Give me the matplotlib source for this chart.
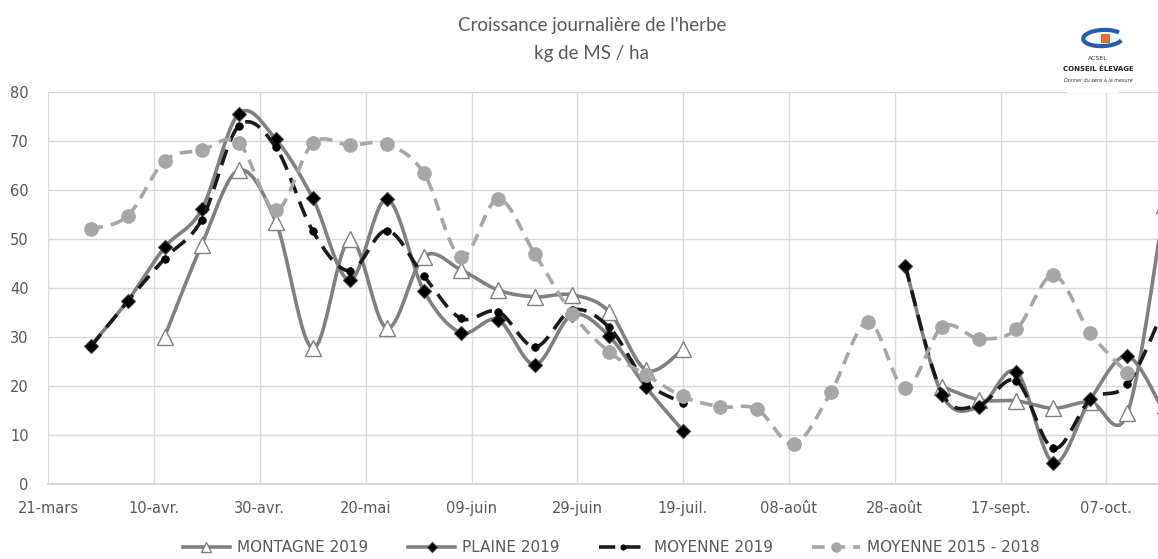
import numpy as np
import pandas as pd
from matplotlib import pyplot as plt
from matplotlib.lines import Line2D
from matplotlib.patches import Rectangle, Arc

nan = np.nan

# weekly measurement dates (2019)
dates = pd.date_range('2019-03-29', periods=30, freq='7D')
start = pd.Timestamp('2019-03-21')

tick_labels = ['21-mars', '10-avr.', '30-avr.', '20-mai', '09-juin', '29-juin',
               '19-juil.', '08-août', '28-août', '17-sept.', '07-oct.']

montagne = [nan, nan, 30.1, 48.8, 64.0, 53.5, 27.7, 49.9, 31.8, 46.4, 43.7, 39.6,
            38.2, 38.6, 35.2, 23.3, 27.5, nan, nan, nan, nan, nan, nan, 19.9,
            17.2, 17.0, 15.5, 16.8, 14.5, 57.0]
plaine = [28.2, 37.4, 48.3, 56.0, 75.5, 70.3, 58.3, 41.6, 58.1, 39.4, 30.9, 33.5,
          24.4, 34.5, 30.2, 19.8, 10.9, nan, nan, nan, nan, nan, 44.5, 18.2,
          15.8, 22.9, 4.4, 17.3, 26.1, 14.5]
moyenne_2019 = [28.0, 37.3, 46.0, 53.9, 73.0, 68.7, 51.6, 43.5, 51.7, 42.4, 33.8,
                35.2, 28.0, 35.5, 32.0, 20.9, 16.6, nan, nan, nan, nan, nan, 44.5,
                18.5, 16.2, 21.1, 7.3, 17.3, 20.4, 36.0]
moyenne_15_18 = [52.0, 54.7, 65.9, 68.1, 69.6, 55.9, 69.5, 69.1, 69.3, 63.4, 46.3,
                 58.1, 46.9, 34.8, 27.0, 22.3, 17.9, 15.8, 15.3, 8.2, 18.9, 33.1,
                 19.6, 32.1, 29.7, 31.6, 42.6, 30.8, 22.6, nan]

days = np.array((dates - start).days, dtype=float)


def smooth(x, y, n=25):
    # excel-like smoothed line: bezier through points, catmull-rom tangents
    y = np.asarray(y, dtype=float)
    xs, ys = [], []
    ok = ~np.isnan(y)
    i = 0
    while i < len(y):
        if not ok[i]:
            i += 1
            continue
        j = i
        while j < len(y) and ok[j]:
            j += 1
        px, py = x[i:j], y[i:j]
        m = len(px)
        if m >= 2:
            t = np.linspace(0, 1, n)
            for k in range(m - 1):
                p0 = np.array([px[max(k - 1, 0)], py[max(k - 1, 0)]])
                p1 = np.array([px[k], py[k]])
                p2 = np.array([px[k + 1], py[k + 1]])
                p3 = np.array([px[min(k + 2, m - 1)], py[min(k + 2, m - 1)]])
                c1 = p1 + (p2 - p0) / 6
                c2 = p2 - (p3 - p1) / 6
                b = (np.outer((1 - t) ** 3, p1) + np.outer(3 * (1 - t) ** 2 * t, c1)
                     + np.outer(3 * (1 - t) * t ** 2, c2) + np.outer(t ** 3, p2))
                xs.extend(b[:, 0])
                ys.extend(b[:, 1])
            xs.append(nan)
            ys.append(nan)
        i = j
    return np.array(xs), np.array(ys)


fig = plt.figure(figsize=(11.58, 5.59), dpi=100)
ax = fig.add_axes([48.3 / 1158, 1 - 484.3 / 559, 1 - 48.3 / 1158, (484.3 - 91.7) / 559])

grey_line = '#808080'
light = '#A6A6A6'

series = [
    (montagne, dict(color=grey_line, lw=2.6, ls='-'),
     dict(marker='^', ms=11, mfc='white', mec=grey_line, mew=1.0), 'MONTAGNE 2019'),
    (plaine, dict(color=grey_line, lw=2.6, ls='-'),
     dict(marker='D', ms=7.5, mfc='black', mec='#404040', mew=0.8), 'PLAINE 2019'),
    (moyenne_2019, dict(color='#1a1a1a', lw=2.6, ls=(0, (4.5, 2.5))),
     dict(marker='o', ms=5.5, mfc='black', mec='black', mew=0.5), 'MOYENNE 2019'),
    (moyenne_15_18, dict(color=light, lw=2.6, ls=(0, (3.5, 2.2))),
     dict(marker='o', ms=10, mfc=light, mec=light, mew=0.5), 'MOYENNE 2015 - 2018'),
]

handles = []
for z, (vals, lstyle, mstyle, name) in enumerate(series):
    sx, sy = smooth(days, vals)
    ax.plot(sx, sy, zorder=3 + z, solid_capstyle='butt', **lstyle)
    ax.plot(days, vals, ls='none', zorder=3 + z, **mstyle)
    hm = dict(mstyle)
    hm['ms'] = mstyle['ms'] * 0.7
    handles.append(Line2D([], [], label=name, **lstyle, **hm))

ax.set_xlim(0, (1158 - 48.3) / 5.29)
ax.set_ylim(0, 80)
ax.set_xticks(np.arange(0, 201, 20))
ax.set_xticklabels(tick_labels)
ax.set_yticks(np.arange(0, 81, 10))
ax.grid(True, color='#D9D9D9', lw=1.0, zorder=0)
ax.set_axisbelow(True)
for s in ['top', 'right', 'left']:
    ax.spines[s].set_visible(False)
ax.spines['bottom'].set_color('#D0D0D0')
ax.spines['bottom'].set_linewidth(1.2)
ax.tick_params(length=0, labelsize=10.5, labelcolor='#595959', pad=12)
ax.tick_params(axis='y', pad=14)

title_font = ['Lato', 'DejaVu Sans']
fig.text(592 / 1158, 1 - 25 / 559, "Croissance journalière de l'herbe", ha='center', va='center',
         fontsize=13.5, color='#595959', family=title_font)
fig.text(592 / 1158, 1 - 53 / 559, 'kg de MS / ha', ha='center', va='center',
         fontsize=13.5, color='#595959', family=title_font)

# logo (approximation)
fig.patches.append(Rectangle((1068 / 1158, 1 - 93 / 559), 50 / 1158, 78 / 559,
                             transform=fig.transFigure, facecolor='white',
                             edgecolor='none', zorder=10))
fig.patches.append(Arc((1103 / 1158, 1 - 38 / 559), 40 / 1158, 16 / 559, angle=15,
                       theta1=20, theta2=330, transform=fig.transFigure,
                       color='#1f5fb4', lw=3, zorder=11))
fig.patches.append(Rectangle((1101 / 1158, 1 - 42 / 559), 8 / 1158, 8 / 559,
                             transform=fig.transFigure, facecolor='#e8751a',
                             edgecolor='#c0392b', lw=0.5, zorder=12))
fig.text(1098 / 1158, 1 - 58 / 559, 'ACSEL', ha='center', va='center', fontsize=4.5,
         color='#333333', zorder=12)
fig.text(1098 / 1158, 1 - 69 / 559, 'CONSEIL ÉLEVAGE', ha='center', va='center', fontsize=5,
         fontweight='bold', color='#222222', zorder=12)
fig.text(1098 / 1158, 1 - 80 / 559, 'Donner du sens à la mesure', ha='center', va='center',
         fontsize=3.5, style='italic', color='#333333', zorder=12)

fig.legend(handles=handles, loc='center', bbox_to_anchor=(611 / 1158, 1 - 548 / 559), ncol=4,
           frameon=False, handlelength=3.1, columnspacing=2.6, handletextpad=0.45,
           prop={'family': ['DejaVu Sans'], 'size': 11},
           labelcolor='#595959')

fig.savefig('out.png', dpi=100)
